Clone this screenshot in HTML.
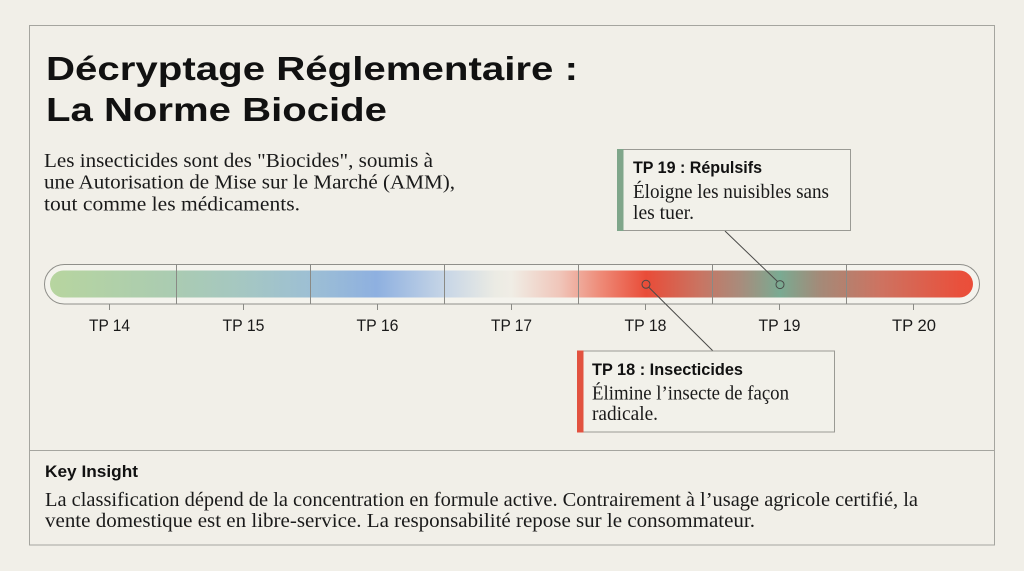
<!DOCTYPE html>
<html>
<head>
<meta charset="utf-8">
<style>
html,body{margin:0;padding:0;background:#f1efe8;}
svg{display:block;}
.sans{font-family:"Liberation Sans",sans-serif;}
.serif{font-family:"Liberation Serif",serif;}
</style>
</head>
<body>
<svg width="1024" height="571" viewBox="0 0 1024 571" xmlns="http://www.w3.org/2000/svg">
  <defs>
    <linearGradient id="bar" x1="50" y1="0" x2="973" y2="0" gradientUnits="userSpaceOnUse">
      <stop offset="0" stop-color="#b7d59f"/>
      <stop offset="0.1365" stop-color="#aacbb2"/>
      <stop offset="0.209" stop-color="#a5c7c2"/>
      <stop offset="0.282" stop-color="#9dbfd4"/>
      <stop offset="0.354" stop-color="#8eb0e0"/>
      <stop offset="0.427" stop-color="#c6d5e6"/>
      <stop offset="0.482" stop-color="#ebebe4"/>
      <stop offset="0.5" stop-color="#f0ede5"/>
      <stop offset="0.552" stop-color="#f0c6ba"/>
      <stop offset="0.596" stop-color="#ee8b78"/>
      <stop offset="0.646" stop-color="#e94c38"/>
      <stop offset="0.704" stop-color="#c97462"/>
      <stop offset="0.748" stop-color="#a88c7c"/>
      <stop offset="0.791" stop-color="#7aaa92"/>
      <stop offset="0.834" stop-color="#a48a78"/>
      <stop offset="0.899" stop-color="#cd7361"/>
      <stop offset="0.986" stop-color="#e9503c"/>
      <stop offset="1" stop-color="#ea4e3a"/>
    </linearGradient>
  </defs>

  <rect x="0" y="0" width="1024" height="571" fill="#f1efe8"/>

  <!-- outer frame -->
  <rect x="29.5" y="25.5" width="965" height="519.5" fill="none" stroke="#a5a59f" stroke-width="1"/>
  <line x1="29.5" y1="450.5" x2="994.5" y2="450.5" stroke="#a5a59f" stroke-width="1"/>

  <!-- title -->
  <text class="sans" x="46" y="80" font-size="33" font-weight="bold" fill="#111" textLength="532" lengthAdjust="spacingAndGlyphs">Décryptage Réglementaire :</text>
  <text class="sans" x="46" y="121" font-size="33" font-weight="bold" fill="#111" textLength="341" lengthAdjust="spacingAndGlyphs">La Norme Biocide</text>

  <!-- subtitle -->
  <text class="serif" x="44" y="167" font-size="20" fill="#1a1a1a" textLength="389" lengthAdjust="spacingAndGlyphs">Les insecticides sont des "Biocides", soumis à</text>
  <text class="serif" x="44" y="188.5" font-size="20" fill="#1a1a1a" textLength="411" lengthAdjust="spacingAndGlyphs">une Autorisation de Mise sur le Marché (AMM),</text>
  <text class="serif" x="44" y="210.5" font-size="20" fill="#1a1a1a" textLength="256" lengthAdjust="spacingAndGlyphs">tout comme les médicaments.</text>

  <!-- bar -->
  <rect x="44.5" y="264.5" width="935" height="39.5" rx="19.75" fill="#f4f3ed" stroke="#8f8f8a" stroke-width="1"/>
  <rect x="50" y="270.5" width="923" height="27" rx="13.5" fill="url(#bar)"/>
  <g stroke="#8a8a85" stroke-width="1">
    <line x1="176.5" y1="264.5" x2="176.5" y2="304"/>
    <line x1="310.5" y1="264.5" x2="310.5" y2="304"/>
    <line x1="444.5" y1="264.5" x2="444.5" y2="304"/>
    <line x1="578.5" y1="264.5" x2="578.5" y2="304"/>
    <line x1="712.5" y1="264.5" x2="712.5" y2="304"/>
    <line x1="846.5" y1="264.5" x2="846.5" y2="304"/>
    <line x1="109.5" y1="304" x2="109.5" y2="310"/>
    <line x1="243.5" y1="304" x2="243.5" y2="310"/>
    <line x1="377.5" y1="304" x2="377.5" y2="310"/>
    <line x1="511.5" y1="304" x2="511.5" y2="310"/>
    <line x1="645.5" y1="304" x2="645.5" y2="310"/>
    <line x1="779.5" y1="304" x2="779.5" y2="310"/>
    <line x1="913.5" y1="304" x2="913.5" y2="310"/>
  </g>

  <!-- tick labels -->
  <g class="sans" font-size="17" fill="#1a1a1a" text-anchor="middle">
    <text x="109.5" y="331" textLength="41" lengthAdjust="spacingAndGlyphs">TP 14</text>
    <text x="243.5" y="331" textLength="42" lengthAdjust="spacingAndGlyphs">TP 15</text>
    <text x="377.5" y="331" textLength="42" lengthAdjust="spacingAndGlyphs">TP 16</text>
    <text x="511.5" y="331" textLength="41" lengthAdjust="spacingAndGlyphs">TP 17</text>
    <text x="645.5" y="331" textLength="42" lengthAdjust="spacingAndGlyphs">TP 18</text>
    <text x="779.5" y="331" textLength="42" lengthAdjust="spacingAndGlyphs">TP 19</text>
    <text x="914" y="331" textLength="44" lengthAdjust="spacingAndGlyphs">TP 20</text>
  </g>

  <!-- leader lines and markers -->
  <g stroke="#4a4a48" stroke-width="1" fill="none">
    <line x1="725" y1="231" x2="777.5" y2="281.5"/>
    <line x1="648.5" y1="287" x2="713" y2="351"/>
    <circle cx="646" cy="284.3" r="4"/>
    <circle cx="780" cy="284.6" r="4"/>
  </g>

  <!-- callout TP19 -->
  <rect x="617.5" y="149.5" width="233" height="81" fill="#f2f1ea" stroke="#9a9a94" stroke-width="1"/>
  <rect x="617" y="149" width="6.5" height="82" fill="#7fa68a"/>
  <text class="sans" x="633" y="173" font-size="16.5" font-weight="bold" fill="#111" textLength="129" lengthAdjust="spacingAndGlyphs">TP 19 : Répulsifs</text>
  <text class="serif" x="633" y="198" font-size="19.5" fill="#1a1a1a" textLength="196" lengthAdjust="spacingAndGlyphs">Éloigne les nuisibles sans</text>
  <text class="serif" x="633" y="219" font-size="19.5" fill="#1a1a1a" textLength="61" lengthAdjust="spacingAndGlyphs">les tuer.</text>

  <!-- callout TP18 -->
  <rect x="577.5" y="351" width="257" height="81" fill="#f2f1ea" stroke="#9a9a94" stroke-width="1"/>
  <rect x="577" y="350.5" width="6.5" height="82" fill="#e2523f"/>
  <text class="sans" x="592" y="375" font-size="16.5" font-weight="bold" fill="#111" textLength="151" lengthAdjust="spacingAndGlyphs">TP 18 : Insecticides</text>
  <text class="serif" x="592" y="399.5" font-size="19.5" fill="#1a1a1a" textLength="197" lengthAdjust="spacingAndGlyphs">Élimine l’insecte de façon</text>
  <text class="serif" x="592" y="420" font-size="19.5" fill="#1a1a1a" textLength="66" lengthAdjust="spacingAndGlyphs">radicale.</text>

  <!-- key insight -->
  <text class="sans" x="45" y="477" font-size="16.5" font-weight="bold" fill="#111" textLength="93" lengthAdjust="spacingAndGlyphs">Key Insight</text>
  <text class="serif" x="45" y="506" font-size="20" fill="#1a1a1a" textLength="873" lengthAdjust="spacingAndGlyphs">La classification dépend de la concentration en formule active. Contrairement à l’usage agricole certifié, la</text>
  <text class="serif" x="45" y="527" font-size="20" fill="#1a1a1a" textLength="710" lengthAdjust="spacingAndGlyphs">vente domestique est en libre-service. La responsabilité repose sur le consommateur.</text>
</svg>
</body>
</html>
